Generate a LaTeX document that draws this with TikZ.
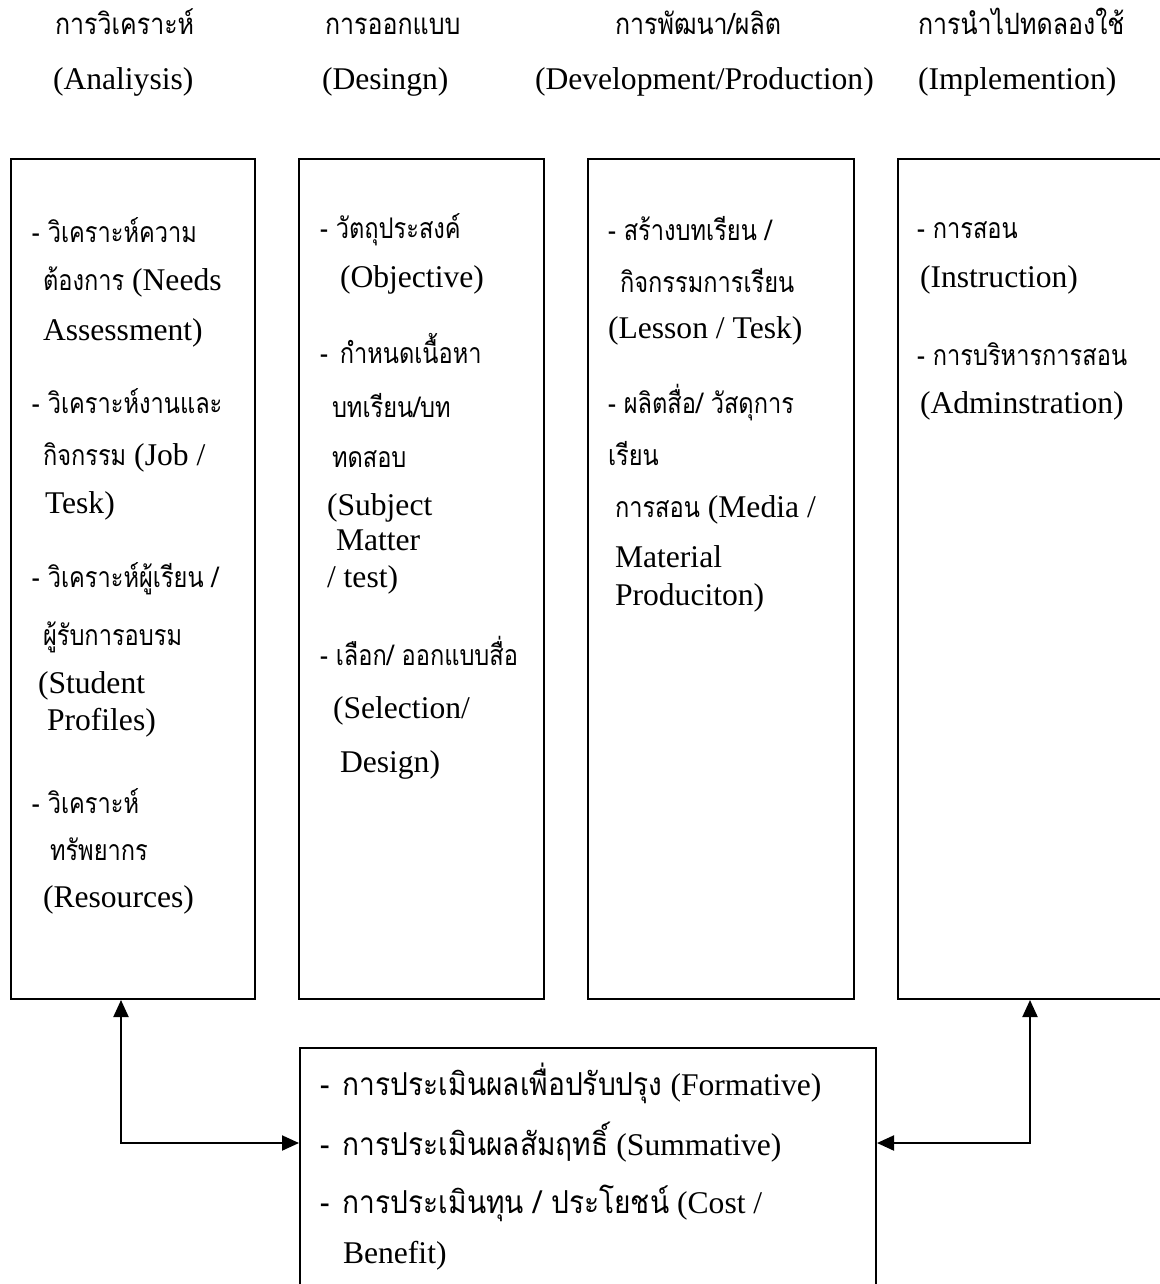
\documentclass[tikz,border=0pt]{standalone}
\usepackage{fontspec}
\setmainfont{Liberation Serif}
\newfontfamily\thaif[Script=Thai,Scale=0.9,FakeStretch=0.83]{Loma}
\newfontfamily\thaih[Script=Thai,Scale=0.93,FakeStretch=0.85]{Loma}
\newfontfamily\thaib[Script=Thai,Scale=1.0,FakeStretch=0.89]{Loma}
\newcommand{\tha}[1]{{\thaif #1}}
\newcommand{\thh}[1]{{\thaih #1}}
\newcommand{\thb}[1]{{\thaib #1}}
\usetikzlibrary{arrows.meta}
\begin{document}
\begin{tikzpicture}[x=0.5pt,y=-0.5pt,
  every node/.style={font=\fontsize{15.8pt}{19pt}\selectfont},
  txt/.style={anchor=base west, inner sep=0pt, outer sep=0pt},
  boxst/.style={draw, line width=1pt, anchor=north west, inner sep=0pt, minimum height=420pt},
  arr/.style={line width=1pt, {Triangle[length=8.5pt,width=7.5pt]}-{Triangle[length=8.5pt,width=7.5pt]}}]
\useasboundingbox (0,0) rectangle (1160,1284);
\clip (0,0) rectangle (1160,1284);
\fill[white] (0,0) rectangle (1160,1284);
% headers
\node[txt] (h1) at (55,35) {\thh{การวิเคราะห์}};
\node[txt] (h1e) at (53,90) {(Analiysis)};
\node[txt] (h2) at (325,35) {\thh{การออกแบบ}};
\node[txt] (h2e) at (322,90) {(Desingn)};
\node[txt] (h3) at (615,35) {\thh{การพัฒนา/ผลิต}};
\node[txt] (h3e) at (535,90) {(Development/Production)};
\node[txt] (h4) at (918,35) {\thh{การนำไปทดลองใช้}};
\node[txt] (h4e) at (918,90) {(Implemention)};
% boxes
\node[boxst, minimum width=122pt] (b1) at (10,158) {};
\node[boxst, minimum width=122.5pt] (b2) at (298,158) {};
\node[boxst, minimum width=133pt] (b3) at (587,158) {};
\node[boxst, minimum width=140pt] (b4) at (897,158) {};
\node[boxst, minimum width=288pt, minimum height=130pt] (ev) at (299,1047) {};
% box 1
\node[txt] (a1) at (32,242) {\tha{- วิเคราะห์ความ}};
\node[txt] (a2) at (43,290) {\tha{ต้องการ} (Needs};
\node[txt] (a3) at (43,340) {Assessment)};
\node[txt] (a4) at (32,413) {\tha{- วิเคราะห์งานและ}};
\node[txt] (a5) at (43,465) {\tha{กิจกรรม} (Job /};
\node[txt] (a6) at (45,513) {Tesk)};
\node[txt] (a7) at (32,587) {\tha{- วิเคราะห์ผู้เรียน /}};
\node[txt] (a8) at (43,645) {\tha{ผู้รับการอบรม}};
\node[txt] (a9) at (38,693) {(Student};
\node[txt] (a10) at (47,730) {Profiles)};
\node[txt] (a11) at (32,813) {\tha{- วิเคราะห์}};
\node[txt] (a12) at (50,860) {\tha{ทรัพยากร}};
\node[txt] (a13) at (43,907) {(Resources)};
% box 2
\node[txt] (c1) at (320,238) {\tha{- วัตถุประสงค์}};
\node[txt] (c2) at (340,287) {(Objective)};
\node[txt] (c3) at (320,363) {\tha{-\hspace{6pt}กำหนดเนื้อหา}};
\node[txt] (c4) at (332,417) {\tha{บทเรียน/บท}};
\node[txt] (c5) at (332,467) {\tha{ทดสอบ}};
\node[txt] (c6) at (327,515) {(Subject};
\node[txt] (c7) at (336,550) {Matter};
\node[txt] (c8) at (327,587) {/ test)};
\node[txt] (c9) at (320,665) {\tha{- เลือก/ ออกแบบสื่อ}};
\node[txt] (c10) at (333,718) {(Selection/};
\node[txt] (c11) at (340,772) {Design)};
% box 3
\node[txt] (d1) at (608,240) {\tha{- สร้างบทเรียน /}};
\node[txt] (d2) at (620,292) {\tha{กิจกรรมการเรียน}};
\node[txt] (d3) at (608,338) {(Lesson / Tesk)};
\node[txt] (d4) at (608,413) {\tha{- ผลิตสื่อ/ วัสดุการ}};
\node[txt] (d5) at (608,465) {\tha{เรียน}};
\node[txt] (d6) at (615,517) {\tha{การสอน} (Media /};
\node[txt] (d7) at (615,567) {Material};
\node[txt] (d8) at (615,605) {Produciton)};
% box 4
\node[txt] (e1) at (917,238) {\tha{- การสอน}};
\node[txt] (e2) at (920,287) {(Instruction)};
\node[txt] (e3) at (917,365) {\tha{- การบริหารการสอน}};
\node[txt] (e4) at (920,413) {(Adminstration)};
% evaluation box
\node[txt] (f1) at (320,1095) {\makebox[11.5pt][l]{\thb{-}}\thb{การประเมินผลเพื่อปรับปรุง} (Formative)};
\node[txt] (f2) at (320,1155) {\makebox[11.5pt][l]{\thb{-}}\thb{การประเมินผลสัมฤทธิ์} (Summative)};
\node[txt] (f3) at (320,1213) {\makebox[11.5pt][l]{\thb{-}}\thb{การประเมินทุน / ประโยชน์} (Cost /};
\node[txt] (f4) at (343,1263) {Benefit)};
% connectors
\coordinate (lc) at (121,1143);
\coordinate (rc) at (1030,1143);
\draw[arr] (b1.south -| lc) |- (ev.west |- lc);
\draw[arr] (b4.south -| rc) |- (ev.east |- rc);
\end{tikzpicture}
\end{document}
